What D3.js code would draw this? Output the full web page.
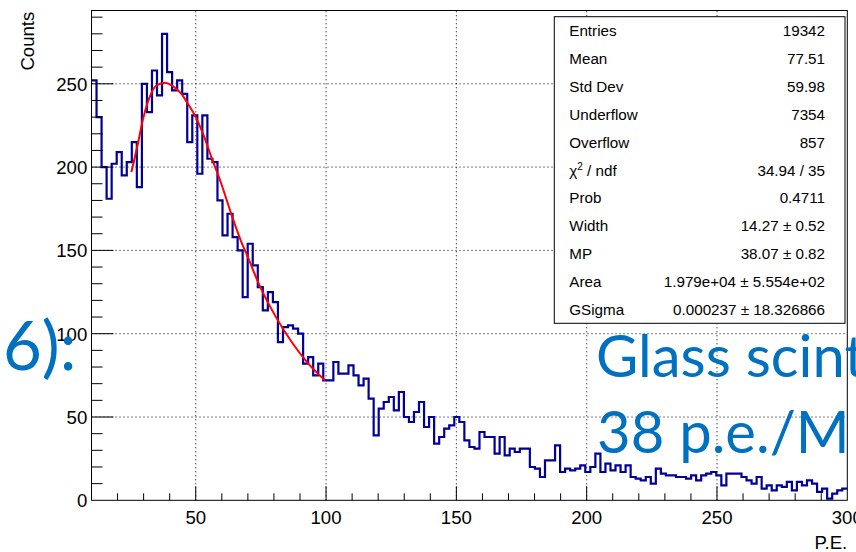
<!DOCTYPE html>
<html>
<head>
<meta charset="utf-8">
<script src="https://cdn.jsdelivr.net/npm/d3@7"></script>
<style>
  body { margin: 0; background: #fff; }
  text { font-family: "Liberation Sans", Arial, Helvetica, sans-serif; }
  text.slide { font-family: Lato, "Open Sans", sans-serif; }
</style>
</head>
<body>
<div id="svgWrapper"></div>
<script>
"use strict"
// histogram: 150 bins between 10 and 300 P.E.
var xMin = 10;
var xMax = 300;
var counts = [
  252, 230, 200, 181, 202, 209, 195, 203, 215, 188,
  250, 233, 258, 243, 280, 257, 246, 252, 244, 215,
  231, 196, 231, 205, 203, 180, 159, 172, 158, 150,
  122, 154, 141, 128, 114, 125, 119, 95, 104, 105,
  103, 100, 82, 86, 75, 82, 72, 72, 83, 76,
  76, 81, 75, 69, 73, 61, 39, 55, 59, 62,
  54, 65, 50, 47, 53, 59, 44, 50, 34, 38,
  43, 45, 50, 47, 36, 32, 31, 41, 38, 38,
  28, 38, 27, 31, 29, 31, 31, 20, 19, 14,
  24, 24, 33, 17, 19, 18, 19, 21, 17, 20,
  28, 17, 22, 18, 21, 17, 21, 14, 13, 12,
  14, 10, 19, 16, 15, 15, 14, 14, 13, 15,
  12, 15, 16, 17, 15, 9, 16, 16, 16, 14,
  12, 10, 14, 7, 9, 6, 9, 8, 11, 6,
  11, 9, 12, 10, 5, 7, 1, 4, 6, 7
];

// fitted curve, points
var fitX = [25.3, 27.8, 29.8, 32.3, 34.9, 38.1, 41.3, 44.5, 47, 50, 52.8, 56, 59.8, 63.6, 67.5, 70, 73.9, 80.4, 86.8, 93.2, 99.6];
var fitY = [197, 214, 229, 242, 249, 250.6, 248.5, 244, 238, 230, 220, 206, 190, 172, 155, 146, 131, 111, 95, 82, 72];

var xTicks = [50, 100, 150, 200, 250, 300];
var yTicks = [0, 50, 100, 150, 200, 250];
var yMax = 294;

var statLabels = ["Entries", "Mean", "Std Dev", "Underflow", "Overflow", "chi2", "Prob", "Width", "MP", "Area", "GSigma"];
var statValues = ["19342", "77.51", "59.98", "7354", "857", "34.94 / 35", "0.4711", "14.27 \u00b1 0.52", "38.07 \u00b1 0.82", "1.979e+04 \u00b1 5.554e+02", "0.000237 \u00b1 18.326866"];

var fullWidth = 856;
var fullHeight = 552;
var padLeft = 91.5, padRight = 847.3, padTop = 10.5, padBottom = 500.3;

var svg = d3.select("#svgWrapper").append("svg")
    .attr("width", fullWidth).attr("height", fullHeight);
svg.append("rect").attr("width", fullWidth).attr("height", fullHeight).attr("fill", "white");

var xScale = d3.scaleLinear().domain([xMin, xMax]).range([padLeft, padRight]);
var yScale = d3.scaleLinear().domain([0, yMax]).range([padBottom, padTop]);

// grid
var grid = svg.append("g").attr("stroke", "#000").attr("stroke-width", 1).attr("stroke-dasharray", "1 3");
grid.selectAll(".gx").data(xTicks.filter(d => d < xMax)).enter().append("line")
    .attr("x1", d => xScale(d)).attr("x2", d => xScale(d))
    .attr("y1", padBottom).attr("y2", padTop);
grid.selectAll(".gy").data(yTicks.filter(d => d > 0)).enter().append("line")
    .attr("x1", padLeft).attr("x2", padRight)
    .attr("y1", d => yScale(d)).attr("y2", d => yScale(d));

// histogram outline
var binW = (xMax - xMin) / counts.length;
var steps = [];
for (let i = 0; i < counts.length; i++) {
    steps.push([xMin + i * binW, counts[i]]);
    steps.push([xMin + (i + 1) * binW, counts[i]]);
}
svg.append("path")
    .attr("fill", "none")
    .attr("stroke", "#000099")
    .attr("stroke-width", 2.2)
    .attr("d", d3.line().x(d => xScale(d[0])).y(d => yScale(d[1]))(steps));

// fit
var fitPts = fitX.map((x, i) => [x, fitY[i]]);
svg.append("path")
    .attr("fill", "none")
    .attr("stroke", "#ff0000")
    .attr("stroke-width", 2)
    .attr("d", d3.line().curve(d3.curveMonotoneX).x(d => xScale(d[0])).y(d => yScale(d[1]))(fitPts));

// frame
svg.append("rect")
    .attr("x", padLeft).attr("y", padTop)
    .attr("width", padRight - padLeft).attr("height", padBottom - padTop)
    .attr("fill", "none").attr("stroke", "#000").attr("stroke-width", 1);

// ticks
var ticks = svg.append("g").attr("stroke", "#000").attr("stroke-width", 1);
var xMinor = d3.range(20, xMax, 10);
ticks.selectAll(".tx").data(xMinor).enter().append("line")
    .attr("x1", d => xScale(d)).attr("x2", d => xScale(d))
    .attr("y1", padBottom).attr("y2", d => padBottom - (d % 50 == 0 ? 14 : 7));
var yMinor = d3.range(10, yMax, 10);
ticks.selectAll(".ty").data(yMinor).enter().append("line")
    .attr("y1", d => yScale(d)).attr("y2", d => yScale(d))
    .attr("x1", padLeft).attr("x2", d => padLeft + (d % 50 == 0 ? 22 : 11));

var labelSize = "18.6px";
svg.selectAll(".xl").data(xTicks).enter().append("text")
    .attr("x", d => xScale(d)).attr("y", 523.5)
    .attr("text-anchor", "middle").attr("font-size", labelSize)
    .text(d => d);
svg.selectAll(".yl").data(yTicks).enter().append("text")
    .attr("x", 87.3).attr("y", d => yScale(d) + 7)
    .attr("text-anchor", "end").attr("font-size", labelSize)
    .text(d => d);

svg.append("text").attr("x", padRight).attr("y", 549)
    .attr("text-anchor", "end").attr("font-size", labelSize).text("P.E.");
svg.append("text").attr("transform", "translate(34,11.7) rotate(-90)")
    .attr("text-anchor", "end").attr("font-size", labelSize).text("Counts");

// stats box
var box = svg.append("g");
box.append("rect").attr("x", 554.3).attr("y", 16.7).attr("width", 845 - 554.3).attr("height", 323.3 - 16.7)
    .attr("fill", "white").attr("stroke", "#000").attr("stroke-width", 1);
var rowH = (323.3 - 16.7) / statLabels.length;
statLabels.forEach(function(lab, i) {
    var yy = 16.7 + rowH * (i + 0.5) + 5.6;
    var t = box.append("text").attr("x", 569.3).attr("y", yy).attr("font-size", "15.2px");
    if (lab == "chi2") {
        t.append("tspan").text("\u03c7");
        t.append("tspan").attr("font-size", "10px").attr("dy", -6).text("2");
        t.append("tspan").attr("dy", 6).text(" / ndf");
    } else {
        t.text(lab);
    }
    box.append("text").attr("x", 825).attr("y", yy).attr("text-anchor", "end")
        .attr("font-size", "15.2px").text(statValues[i]);
});

// slide text over the plot
var blue = "#0070c0";
var over = svg.append("g").attr("fill", blue);
over.append("text").attr("class", "slide").attr("x", 3).attr("y", 370).attr("font-size", "67px").text("6):");
over.append("text").attr("class", "slide").attr("x", 596).attr("y", 377).attr("font-size", "58px").text("Glass scint");
over.append("text").attr("class", "slide").attr("x", 597).attr("y", 453.3).attr("font-size", "58px").text("38 p.e./M");
</script>
</body>
</html>
